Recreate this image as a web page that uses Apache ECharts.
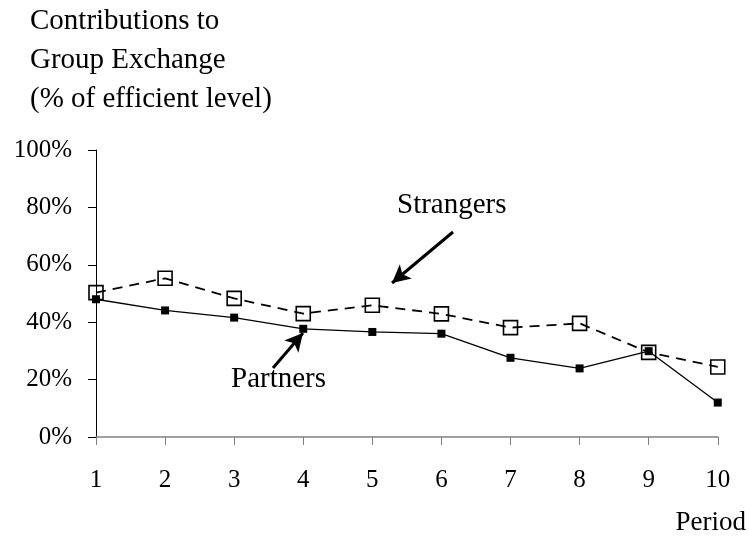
<!DOCTYPE html>
<html>
<head>
<meta charset="utf-8">
<script src="https://cdn.jsdelivr.net/npm/echarts@6/dist/echarts.min.js"></script>
<style>
    html, body { margin: 0; padding: 0; background: #fff; }
    #chart { width: 749px; height: 537px; }
</style>
</head>
<body>
<div id="chart"></div>
<script>
// periods on the x axis
const periods = ['1', '2', '3', '4', '5', '6', '7', '8', '9', '10']
// contributions, % of efficient level
const partners = [48.0, 44.1, 41.6, 37.7, 36.6, 36.0, 27.6, 23.9, 29.9, 12.0]
const strangers = [50.3, 55.3, 48.3, 43.0, 45.9, 42.9, 38.1, 39.6, 29.5, 24.4]

const serif = 'Liberation Serif, Times New Roman, serif'

const chart = echarts.init(document.getElementById('chart'))

const option = {
    animation: false,
    backgroundColor: '#fff',
    title: {
        text: 'Contributions to\nGroup Exchange\n(% of efficient level)',
        left: 25,
        top: -3,
        textStyle: {
            fontFamily: serif,
            fontSize: 29,
            fontWeight: 'normal',
            color: '#000',
            lineHeight: 39,
        },
    },
    grid: {
        left: 96,
        right: 26,
        top: 150,
        bottom: 100,
    },
    xAxis: {
        type: 'category',
        boundaryGap: false,
        data: periods,
        name: 'Period',
        nameLocation: 'end',
        nameGap: 0,
        nameTextStyle: {
            fontFamily: serif,
            fontSize: 27,
            color: '#000',
            align: 'center',
            verticalAlign: 'top',
            padding: [72, 0, 0, -14],
        },
        axisLine: { lineStyle: { color: '#808080', width: 1.5 } },
        axisTick: { show: true, alignWithLabel: true, length: 8, lineStyle: { color: '#808080' } },
        axisLabel: {
            fontFamily: serif,
            fontSize: 25,
            color: '#000',
            margin: 31,
        },
        splitLine: { show: false },
    },
    yAxis: {
        type: 'value',
        min: 0,
        max: 100,
        interval: 20,
        axisLine: { show: true, lineStyle: { color: '#000', width: 1 } },
        axisTick: { show: true, length: 8, lineStyle: { color: '#000' } },
        axisLabel: {
            fontFamily: serif,
            fontSize: 25,
            color: '#000',
            margin: 24,
            formatter: '{value}%',
        },
        splitLine: { show: false },
    },
    series: [
        {
            name: 'Strangers',
            type: 'line',
            data: strangers,
            symbol: 'rect',
            symbolSize: 14,
            lineStyle: { color: '#000', width: 1.8, type: [10, 7] },
            itemStyle: { color: 'rgba(0,0,0,0)', borderColor: '#000', borderWidth: 1.6 },
            z: 3,
        },
        {
            name: 'Partners',
            type: 'line',
            data: partners,
            symbol: 'rect',
            symbolSize: 8,
            lineStyle: { color: '#000', width: 1.3 },
            itemStyle: { color: '#000' },
            z: 4,
            markLine: {
                silent: true,
                symbol: ['none', 'arrow'],
                symbolSize: [14, 18],
                label: { show: false },
                lineStyle: { color: '#000', width: 3, type: 'solid' },
                data: [
                    [{ x: 453, y: 232 }, { x: 392, y: 283 }],
                    [{ x: 273, y: 368 }, { x: 303, y: 333 }],
                ],
            },
        },
    ],
    graphic: [
        {
            type: 'text',
            left: 397,
            top: 191,
            style: { text: 'Strangers', font: '29px ' + serif, fill: '#000' },
        },
        {
            type: 'text',
            left: 231,
            top: 365,
            style: { text: 'Partners', font: '29px ' + serif, fill: '#000' },
        },
    ],
}

chart.setOption(option)
</script>
</body>
</html>
